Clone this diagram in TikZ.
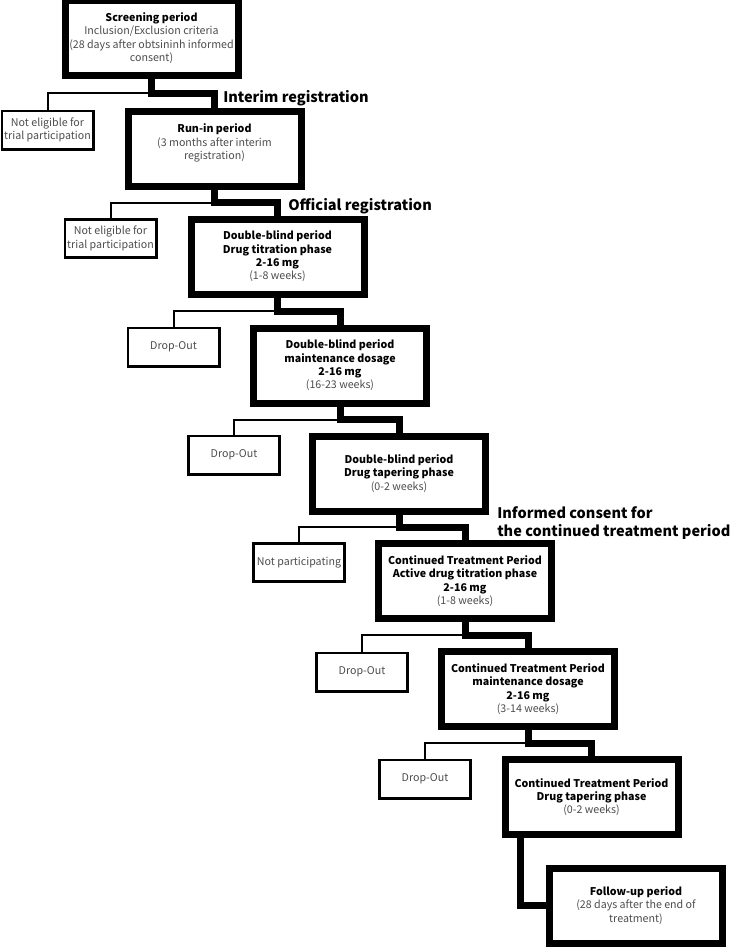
\documentclass[tikz,border=0pt]{standalone}
\usepackage{fontspec}
\setmainfont{Noto Sans CJK JP}
\usetikzlibrary{calc}
\definecolor{txtgray}{gray}{0.3}
\newcommand{\bld}[1]{\textcolor{black}{\bfseries #1}}
\tikzset{
  big/.style={draw=black, line width=7*0.75pt, minimum width=173*0.75pt,
    minimum height=75*0.75pt, align=center, inner sep=0pt,
    font=\fontsize{8}{10}\selectfont, text=txtgray},
  small/.style={draw=black, line width=2.7*0.75pt, minimum width=91.3*0.75pt,
    minimum height=38.3*0.75pt, align=center, inner sep=0pt,
    font=\fontsize{8}{10}\selectfont, text=txtgray},
  thickc/.style={line width=7*0.75pt, line join=miter},
  thinc/.style={line width=2*0.75pt},
  lbl/.style={anchor=west, inner sep=0pt, align=left,
    font=\fontsize{10.9}{14}\selectfont\bfseries}
}
\begin{document}
\begin{tikzpicture}[x=0.75pt,y=-0.75pt]
\useasboundingbox (0,0) rectangle (731,947);
% main boxes
\node[big] (scr) at (151.5,38) {\bld{Screening period}\\Inclusion/Exclusion criteria\\(28 days after obtsininh informed\\consent)};
\node[big] (run) at (214.5,148.5) {\bld{Run-in period}\\(3 months after interim\\registration)\\~};
\node[big] (dbt) at (277.5,256.5) {\bld{Double-blind period}\\\bld{Drug titration phase}\\\bld{2-16 mg}\\(1-8 weeks)};
\node[big] (dbm) at (340,365.5) {\bld{Double-blind period}\\\bld{maintenance dosage}\\\bld{2-16 mg}\\(16-23 weeks)};
\node[big] (dbp) at (399,473.5) {\bld{Double-blind period}\\\bld{Drug tapering phase}\\(0-2 weeks)};
\node[big] (ctt) at (465,581) {\bld{Continued Treatment Period}\\\bld{Active drug titration phase}\\\bld{2-16 mg}\\(1-8 weeks)};
\node[big] (ctm) at (528,689) {\bld{Continued Treatment Period}\\\bld{maintenance dosage}\\\bld{2-16 mg}\\(3-14 weeks)};
\node[big] (ctp) at (591.5,797) {\bld{Continued Treatment Period}\\\bld{Drug tapering phase}\\(0-2 weeks)};
\node[big] (fu) at (636,905.5) {\bld{Follow-up period}\\(28 days after the end of\\treatment)};
% side boxes
\node[small] (ne1) at (47.5,130) {Not eligible for\\trial participation};
\node[small] (ne2) at (110.5,238.5) {Not eligible for\\trial participation};
\node[small] (do1) at (173.5,347) {Drop-Out};
\node[small] (do2) at (234,455) {Drop-Out};
\node[small] (np) at (299,562.5) {Not participating};
\node[small] (do3) at (362,672) {Drop-Out};
\node[small] (do4) at (425,779) {Drop-Out};
% labels
\node[lbl] (l1) at (223,98) {Interim registration};
\node[lbl] (l2) at (288,206) {Official registration};
\node[lbl] (l3) at (497,523) {Informed consent for\\the continued treatment period};
% connectors
\foreach \a/\b/\s in {scr/run/ne1, run/dbt/ne2, dbt/dbm/do1, dbm/dbp/do2, dbp/ctt/np, ctt/ctm/do3, ctm/ctp/do4}{
  \coordinate (m) at ($(\a.south)!.5!(\b.north)$);
  \draw[thinc] (\a.south |- m) -| (\s.north);
  \draw[thickc] (\a.south) |- (m) -| (\b.north);
}
\draw[thickc] ([xshift=13.9pt]ctp.south west) |- (fu.west);
\end{tikzpicture}
\end{document}
